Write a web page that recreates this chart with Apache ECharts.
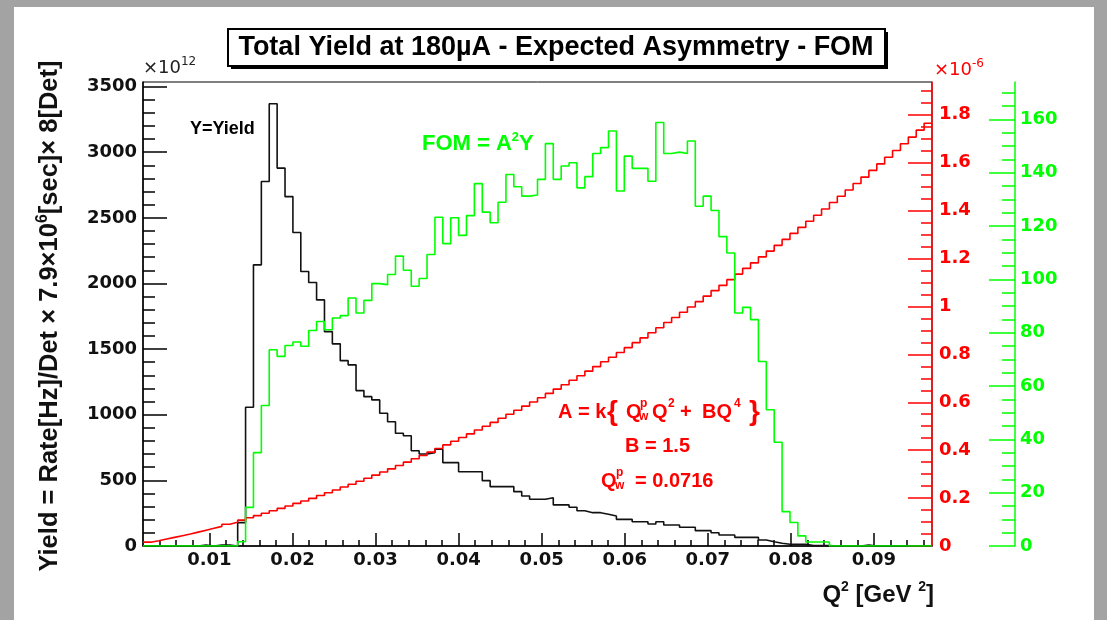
<!DOCTYPE html>
<html><head><meta charset="utf-8">
<script src="https://cdn.jsdelivr.net/npm/echarts@6/dist/echarts.min.js"></script>
<style>html,body{margin:0;padding:0;background:#fff}#c{width:1107px;height:620px}</style>
</head><body><div id="c"></div>
<script>
// Histogram binning (Q^2 in GeV^2)
const BIN_START = 0.002, BIN_WIDTH = 0.00095;
// Yield (x10^12)
const yieldE12 = [
 0,0,0,0,0,0,0,8,0,8,
 8,0,178,1057,2142,2777,3369,2879,2662,2388,
 2091,2008,1875,1633,1540,1412,1380,1184,1138,1113,
 1011,947,859,840,726,701,711,737,635,635,
 566,566,566,498,452,452,452,414,381,356,
 356,368,313,313,295,269,254,254,242,229,
 203,203,185,185,168,185,160,160,143,143,
 117,117,101,84,84,66,66,66,46,33,
 21,13,13,13,3,3,3,0,0,0,
 0,8,0,0,0,0,0,0,0,0];
// Expected asymmetry (x10^-6)
const asymmetryE6 = [
 0.016,0.022,0.029,0.036,0.043,0.050,0.058,0.066,0.074,0.082,
 0.091,0.099,0.108,0.118,0.127,0.137,0.147,0.157,0.167,0.178,
 0.188,0.199,0.211,0.222,0.234,0.246,0.258,0.270,0.283,0.296,
 0.309,0.322,0.336,0.350,0.364,0.378,0.392,0.407,0.422,0.437,
 0.453,0.468,0.484,0.500,0.516,0.533,0.550,0.567,0.584,0.601,
 0.619,0.637,0.655,0.673,0.692,0.711,0.730,0.749,0.769,0.788,
 0.808,0.828,0.849,0.869,0.890,0.911,0.933,0.954,0.976,0.998,
 1.020,1.043,1.066,1.088,1.112,1.135,1.159,1.182,1.207,1.231,
 1.255,1.280,1.305,1.330,1.356,1.381,1.407,1.434,1.460,1.486,
 1.513,1.540,1.568,1.595,1.623,1.651,1.679,1.707,1.736,1.765];
// FOM = A^2 Y
const fom = [
 0,0,0,0,0,0,0,0,0,0,
 0,0,1.6,14.5,35.0,52.7,73.6,71.1,75.2,76.5,
 74.9,80.8,84.2,81.1,85.5,86.4,93.0,87.4,92.1,98.4,
 98.0,101.8,108.7,103.4,97.4,100.3,109.3,123.3,113.4,123.1,
 116.5,123.9,135.9,125.2,121.2,128.9,139.3,134.7,131.2,131.6,
 137.5,150.9,137.5,142.5,143.7,134.3,138.5,147.2,149.4,155.6,
 133.1,146.2,141.6,141.6,136.8,158.8,147.2,147.7,147.2,151.9,
 127.4,131.2,125.8,116.0,109.9,87.4,89.5,84.9,69.2,51.1,
 38.9,12.9,8.8,3.8,1.5,1.5,1.5,0,0,0,
 0,0,0,0,0,0,0,0,0,0];
// Tick labels
const xTicks = [0.01,0.02,0.03,0.04,0.05,0.06,0.07,0.08,0.09];
const yieldTicks = [0,500,1000,1500,2000,2500,3000,3500];
const asymTicks = [0,0.2,0.4,0.6,0.8,1,1.2,1.4,1.6,1.8];
const fomTicks = [0,20,40,60,80,100,120,140,160];

const X_MIN = 0.002, X_MAX = 0.097;
const Y_MAX = 3535, A_MAX = 1.937, F_MAX = 174;

function histPoints(vals){
  const pts = vals.map((v,i)=>[BIN_START + i*BIN_WIDTH, v]);
  pts.push([BIN_START + vals.length*BIN_WIDTH, vals[vals.length-1]]);
  return pts;
}
function minorList(step, maxCount, every){
  const out=[]; for(let m=1;m<=maxCount;m++){ if(m%every) out.push(+(m*step).toFixed(5)); } return out;
}
const xMinor = minorList(0.002, 48, 5).filter(v=>v>X_MIN+1e-9 && v<X_MAX);
const yMinor = minorList(100, 35, 5);
const aMinor = minorList(0.05, 38, 4);
const fMinor = minorList(5, 34, 4);

const RED='#ff0000', GREEN='#00ff00', BLACK='#000000';
const tickFont = {fontFamily:'DejaVu Sans', fontWeight:'bold', fontSize:18};

function valAxis(o){
  return Object.assign({type:'value', splitLine:{show:false}, axisPointer:{show:false}}, o);
}

const chart = echarts.init(document.getElementById('c'), null, {renderer:'canvas'});
const option = {
  animation:false,
  backgroundColor:'#ffffff',
  grid:{left:143, right:175, top:82, bottom:74, show:true, borderColor:'#000', borderWidth:1, backgroundColor:'transparent', containLabel:false},
  xAxis:[
    valAxis({min:X_MIN, max:X_MAX, position:'bottom',
      axisLine:{show:true, onZero:false, lineStyle:{color:BLACK, width:1.5}},
      axisTick:{show:true, inside:true, length:13, customValues:xTicks, lineStyle:{color:BLACK, width:1.5}},
      axisLabel:Object.assign({show:true, customValues:xTicks, margin:5, color:'#111', formatter:v=>String(+v.toFixed(3))}, tickFont)}),
    valAxis({min:X_MIN, max:X_MAX, position:'bottom',
      axisLine:{show:false, onZero:false},
      axisTick:{show:true, inside:true, length:6, customValues:xMinor, lineStyle:{color:BLACK, width:1.5}},
      axisLabel:{show:false}})
  ],
  yAxis:[
    valAxis({min:0, max:Y_MAX, position:'left',
      axisLine:{show:true, onZero:false, lineStyle:{color:BLACK, width:1.5}},
      axisTick:{show:true, inside:true, length:24, customValues:yieldTicks, lineStyle:{color:BLACK, width:1.5}},
      axisLabel:Object.assign({show:true, customValues:yieldTicks, margin:6, color:'#111', formatter:v=>String(Math.round(v))}, tickFont)}),
    valAxis({min:0, max:Y_MAX, position:'left',
      axisLine:{show:false, onZero:false},
      axisTick:{show:true, inside:true, length:12, customValues:yMinor, lineStyle:{color:BLACK, width:1.5}},
      axisLabel:{show:false}}),
    valAxis({min:0, max:A_MAX, position:'right', offset:0,
      axisLine:{show:true, onZero:false, lineStyle:{color:RED, width:1.5}},
      axisTick:{show:true, inside:true, length:24, customValues:asymTicks, lineStyle:{color:RED, width:1.5}},
      axisLabel:Object.assign({show:true, customValues:asymTicks, margin:7, color:RED, formatter:v=>String(+v.toFixed(1))}, tickFont)}),
    valAxis({min:0, max:A_MAX, position:'right', offset:0,
      axisLine:{show:false, onZero:false},
      axisTick:{show:true, inside:true, length:11, customValues:aMinor, lineStyle:{color:RED, width:1.5}},
      axisLabel:{show:false}}),
    valAxis({min:0, max:F_MAX, position:'right', offset:83,
      axisLine:{show:true, onZero:false, lineStyle:{color:GREEN, width:1.5}},
      axisTick:{show:true, inside:true, length:26, customValues:fomTicks, lineStyle:{color:GREEN, width:1.5}},
      axisLabel:Object.assign({show:true, customValues:fomTicks, margin:5, color:GREEN, formatter:v=>String(Math.round(v))}, tickFont)}),
    valAxis({min:0, max:F_MAX, position:'right', offset:83,
      axisLine:{show:false, onZero:false},
      axisTick:{show:true, inside:true, length:13, customValues:fMinor, lineStyle:{color:GREEN, width:1.5}},
      axisLabel:{show:false}})
  ],
  series:[
    {name:'Yield', type:'line', step:'end', xAxisIndex:0, yAxisIndex:0, data:histPoints(yieldE12),
     showSymbol:false, symbol:'none', lineStyle:{color:'#111', width:1.6}, z:2, clip:true},
    {name:'Asymmetry', type:'line', step:'end', xAxisIndex:0, yAxisIndex:2, data:histPoints(asymmetryE6),
     showSymbol:false, symbol:'none', lineStyle:{color:RED, width:1.6}, z:3, clip:true},
    {name:'FOM', type:'line', step:'end', xAxisIndex:0, yAxisIndex:4, data:histPoints(fom),
     showSymbol:false, symbol:'none', lineStyle:{color:GREEN, width:1.6}, z:4, clip:true}
  ],
  graphic:[
    // page frame bands
    {type:'rect', shape:{x:0,y:0,width:14,height:620}, style:{fill:'#a3a3a3'}, z:-10, silent:true},
    {type:'rect', shape:{x:0,y:0,width:1107,height:7}, style:{fill:'#a3a3a3'}, z:-10, silent:true},
    {type:'rect', shape:{x:1094,y:0,width:13,height:620}, style:{fill:'#a3a3a3'}, z:-10, silent:true},
    // title box with shadow
    {type:'rect', shape:{x:231,y:32,width:657,height:37}, style:{fill:'#000'}, z:10},
    {type:'rect', shape:{x:228,y:29,width:657,height:37}, style:{fill:'#fff', stroke:'#000', lineWidth:2}, z:11},
    {type:'text', z:12, style:{x:556, y:48, align:'center', verticalAlign:'middle',
      text:'Total Yield at 180\u00B5A - Expected Asymmetry - FOM', font:'bold 27px "Liberation Sans", Arial, sans-serif', fill:'#000'}},
    // y axis title
    {type:'text', z:12, x:50, y:316, rotation:Math.PI/2, style:{x:0, y:0, align:'center', verticalAlign:'middle',
      text:'{a|Yield = Rate[Hz]/Det \u00D7 7.9\u00D710}{s|6}{a|[sec]\u00D7 8[Det]}',
      rich:{a:{font:'bold 25.5px "Liberation Sans", Arial, sans-serif', fill:'#111', lineHeight:31},
            s:{font:'bold 16px "Liberation Sans", Arial, sans-serif', fill:'#111', verticalAlign:'top', lineHeight:18}}}},
    // x axis title
    {type:'text', z:12, style:{x:934, y:595, align:'right', verticalAlign:'middle',
      text:'{a|Q}{s|2}{a| [GeV }{s|2}{a|]}',
      rich:{a:{font:'bold 24px "Liberation Sans", Arial, sans-serif', fill:'#111', lineHeight:30},
            s:{font:'bold 14px "Liberation Sans", Arial, sans-serif', fill:'#111', verticalAlign:'top', lineHeight:17}}}},
    // exponent labels
    {type:'text', z:12, style:{x:143, y:68, align:'left', verticalAlign:'middle',
      text:'{a|\u00D710}{s|12}',
      rich:{a:{font:'18px "DejaVu Sans", sans-serif', fill:'#222', lineHeight:24},
            s:{font:'12px "DejaVu Sans", sans-serif', fill:'#222', verticalAlign:'top', lineHeight:14}}}},
    {type:'text', z:12, style:{x:934, y:70, align:'left', verticalAlign:'middle',
      text:'{a|\u00D710}{s|-6}',
      rich:{a:{font:'18px "DejaVu Sans", sans-serif', fill:RED, lineHeight:24},
            s:{font:'12px "DejaVu Sans", sans-serif', fill:RED, verticalAlign:'top', lineHeight:14}}}},
    // annotations
    {type:'text', z:12, style:{x:190, y:129, align:'left', verticalAlign:'middle', text:'Y=Yield',
      font:'bold 18px "Liberation Sans", Arial, sans-serif', fill:'#000'}},
    {type:'text', z:12, style:{x:422, y:144, align:'left', verticalAlign:'middle',
      text:'{a|FOM = A}{s|2}{a|Y}',
      rich:{a:{font:'bold 22px "Liberation Sans", Arial, sans-serif', fill:GREEN, lineHeight:26},
            s:{font:'bold 13px "Liberation Sans", Arial, sans-serif', fill:GREEN, verticalAlign:'top', lineHeight:14}}}},
    {type:'text', z:12, style:{x:558, y:412, align:'left', verticalAlign:'middle', text:'A = k', font:'bold 20px "Liberation Sans", Arial, sans-serif', fill:RED}},
    {type:'text', z:12, style:{x:607, y:412, align:'left', verticalAlign:'middle', text:'{', font:'bold 28px "Liberation Sans", Arial, sans-serif', fill:RED}},
    {type:'text', z:12, style:{x:626, y:412, align:'left', verticalAlign:'middle', text:'Q', font:'bold 20px "Liberation Sans", Arial, sans-serif', fill:RED}},
    {type:'text', z:12, style:{x:640, y:404, align:'left', verticalAlign:'middle', text:'p', font:'bold 12px "Liberation Sans", Arial, sans-serif', fill:RED}},
    {type:'text', z:12, style:{x:639, y:417, align:'left', verticalAlign:'middle', text:'w', font:'bold 12px "Liberation Sans", Arial, sans-serif', fill:RED}},
    {type:'text', z:12, style:{x:652, y:412, align:'left', verticalAlign:'middle', text:'Q', font:'bold 20px "Liberation Sans", Arial, sans-serif', fill:RED}},
    {type:'text', z:12, style:{x:668, y:404, align:'left', verticalAlign:'middle', text:'2', font:'bold 12px "Liberation Sans", Arial, sans-serif', fill:RED}},
    {type:'text', z:12, style:{x:680, y:412, align:'left', verticalAlign:'middle', text:'+', font:'bold 20px "Liberation Sans", Arial, sans-serif', fill:RED}},
    {type:'text', z:12, style:{x:702, y:412, align:'left', verticalAlign:'middle', text:'BQ', font:'bold 20px "Liberation Sans", Arial, sans-serif', fill:RED}},
    {type:'text', z:12, style:{x:734, y:404, align:'left', verticalAlign:'middle', text:'4', font:'bold 12px "Liberation Sans", Arial, sans-serif', fill:RED}},
    {type:'text', z:12, style:{x:749, y:412, align:'left', verticalAlign:'middle', text:'}', font:'bold 28px "Liberation Sans", Arial, sans-serif', fill:RED}},
    {type:'text', z:12, style:{x:625, y:446, align:'left', verticalAlign:'middle', text:'B = 1.5', font:'bold 20px "Liberation Sans", Arial, sans-serif', fill:RED}},
    {type:'text', z:12, style:{x:601, y:481, align:'left', verticalAlign:'middle', text:'Q', font:'bold 20px "Liberation Sans", Arial, sans-serif', fill:RED}},
    {type:'text', z:12, style:{x:616, y:473, align:'left', verticalAlign:'middle', text:'p', font:'bold 12px "Liberation Sans", Arial, sans-serif', fill:RED}},
    {type:'text', z:12, style:{x:615, y:486, align:'left', verticalAlign:'middle', text:'w', font:'bold 12px "Liberation Sans", Arial, sans-serif', fill:RED}},
    {type:'text', z:12, style:{x:635, y:481, align:'left', verticalAlign:'middle', text:'= 0.0716', font:'bold 20px "Liberation Sans", Arial, sans-serif', fill:RED}}
  ]
};
chart.setOption(option);
</script>
</body></html>
